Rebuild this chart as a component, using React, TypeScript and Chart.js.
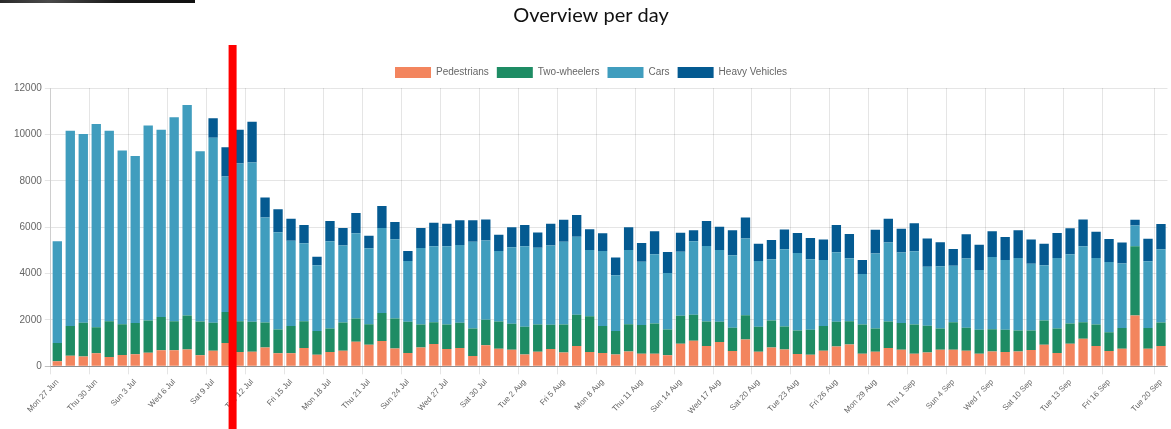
import React, { useEffect, useRef } from "react";
import { Chart, registerables } from "chart.js";

Chart.register(...registerables);

const days: string[] = [
  "Mon 27 Jun", "Tue 28 Jun", "Wed 29 Jun", "Thu 30 Jun",
  "Fri 1 Jul", "Sat 2 Jul", "Sun 3 Jul", "Mon 4 Jul", "Tue 5 Jul", "Wed 6 Jul", "Thu 7 Jul", "Fri 8 Jul",
  "Sat 9 Jul", "Sun 10 Jul", "Mon 11 Jul", "Tue 12 Jul", "Wed 13 Jul", "Thu 14 Jul", "Fri 15 Jul", "Sat 16 Jul",
  "Sun 17 Jul", "Mon 18 Jul", "Tue 19 Jul", "Wed 20 Jul", "Thu 21 Jul", "Fri 22 Jul", "Sat 23 Jul", "Sun 24 Jul",
  "Mon 25 Jul", "Tue 26 Jul", "Wed 27 Jul", "Thu 28 Jul", "Fri 29 Jul", "Sat 30 Jul", "Sun 31 Jul",
  "Mon 1 Aug", "Tue 2 Aug", "Wed 3 Aug", "Thu 4 Aug", "Fri 5 Aug", "Sat 6 Aug", "Sun 7 Aug", "Mon 8 Aug",
  "Tue 9 Aug", "Wed 10 Aug", "Thu 11 Aug", "Fri 12 Aug", "Sat 13 Aug", "Sun 14 Aug", "Mon 15 Aug", "Tue 16 Aug",
  "Wed 17 Aug", "Thu 18 Aug", "Fri 19 Aug", "Sat 20 Aug", "Sun 21 Aug", "Mon 22 Aug", "Tue 23 Aug", "Wed 24 Aug",
  "Thu 25 Aug", "Fri 26 Aug", "Sat 27 Aug", "Sun 28 Aug", "Mon 29 Aug", "Tue 30 Aug", "Wed 31 Aug",
  "Thu 1 Sep", "Fri 2 Sep", "Sat 3 Sep", "Sun 4 Sep", "Mon 5 Sep", "Tue 6 Sep", "Wed 7 Sep", "Thu 8 Sep",
  "Fri 9 Sep", "Sat 10 Sep", "Sun 11 Sep", "Mon 12 Sep", "Tue 13 Sep", "Wed 14 Sep", "Thu 15 Sep", "Fri 16 Sep",
  "Sat 17 Sep", "Sun 18 Sep", "Mon 19 Sep", "Tue 20 Sep",
];

const pedestrians: number[] = [
  215, 460, 430, 570, 400, 490, 520, 590, 690, 690, 730, 475, 675, 1005, 615, 630, 815, 560, 560, 790,
  500, 615, 675, 1060, 930, 1090, 775, 575, 815, 960, 745, 790, 445, 905, 760, 715, 515, 630, 745, 600,
  875, 615, 575, 515, 645, 545, 545, 475, 975, 1105, 875, 1045, 660, 1160, 630, 815, 730, 530, 500, 675,
  860, 945, 545, 630, 790, 715, 545, 600, 715, 715, 675, 545, 645, 615, 645, 705, 930, 575, 975, 1190,
  875, 660, 760, 2195, 760, 875,
];

const twoWheelers: number[] = [
  790, 1280, 1450, 1120, 1550, 1330, 1350, 1390, 1435, 1250, 1465, 1460, 1205, 1335, 1335, 1290, 1075, 1030, 1175, 1160,
  1020, 1020, 1220, 1005, 890, 1205, 1290, 1345, 990, 945, 1060, 1090, 1190, 1100, 1175, 1120, 1190, 1175, 1045, 1205,
  1345, 1550, 1160, 1005, 1175, 1235, 1305, 1115, 1205, 1120, 1060, 875, 1005, 1045, 1075, 1160, 990, 1020, 1075, 1060,
  1060, 1005, 1260, 1005, 1145, 1150, 1260, 1150, 920, 1190, 990, 1030, 960, 960, 905, 845, 1045, 1060, 875, 715,
  930, 815, 890, 2980, 890, 1015,
];

const cars: number[] = [
  4390, 8420, 8140, 8760, 8210, 7490, 7200, 8400, 8080, 8800, 9070, 7335, 7970, 5840, 6790, 6870, 4530, 4190, 3685, 3355,
  2840, 3755, 3310, 3670, 3270, 3670, 3410, 2625, 3300, 3270, 3370, 3355, 3740, 3425, 3040, 3300, 3470, 3310, 3425, 3570,
  3370, 2855, 3240, 2410, 3200, 2725, 2985, 2440, 2765, 3170, 3255, 3095, 3125, 3310, 2840, 2640, 3325, 3340, 3040, 2855,
  3000, 2710, 2180, 3225, 3400, 3040, 3155, 2540, 2680, 2435, 2980, 2580, 3110, 3010, 3125, 2870, 2380, 3040, 2985, 3270,
  2870, 3025, 2780, 900, 2880, 3155,
];

const heavyVehicles: number[] = [
  0, 0, 0, 0, 0, 0, 0, 0, 0, 0, 0, 0, 850, 1265, 1460, 1760, 860, 990, 945, 790,
  370, 875, 760, 875, 545, 945, 745, 430, 860, 1020, 975, 1060, 920, 905, 700, 860, 920, 660, 930, 945,
  930, 890, 760, 760, 975, 815, 990, 900, 815, 475, 1075, 1005, 1075, 905, 745, 830, 860, 860, 915, 875,
  1175, 1045, 600, 1030, 1030, 1030, 1205, 1220, 1030, 715, 1045, 1090, 1105, 990, 1190, 1045, 930, 1075, 1120, 1160,
  1130, 990, 905, 245, 975, 1090,
];

const seriesNames: string[] = ["Pedestrians", "Two-wheelers", "Cars", "Heavy Vehicles"];
const seriesColors: string[] = ["#f3855e", "#1e8c64", "#409dbe", "#045a91"];
const yTicks: number[] = [0, 2000, 4000, 6000, 8000, 10000, 12000];
const markerBetween = 13.5; // red marker between Sun 10 Jul and Mon 11 Jul

const lastIdx = days.length - 1;
const shownTick = (i: number) => i === lastIdx || (i % 3 === 0 && i + 3 <= lastIdx);

const markerPlugin = {
  id: "redMarker",
  afterDraw(chart: any) {
    const xs = chart.scales.x;
    const ctx = chart.ctx;
    const x = xs.getPixelForValue(markerBetween);
    const top = chart.legend.top - 14;
    ctx.save();
    ctx.fillStyle = "#ff0000";
    ctx.fillRect(x - 4, top, 8, chart.height - top);
    ctx.restore();
  },
};

export default function App() {
  const ref = useRef<HTMLCanvasElement | null>(null);

  useEffect(() => {
    if (!ref.current) return;
    const data = [pedestrians, twoWheelers, cars, heavyVehicles];
    const chart = new Chart(ref.current, {
      type: "bar",
      data: {
        labels: days,
        datasets: seriesNames.map((name, k) => ({
          label: name,
          data: data[k],
          backgroundColor: seriesColors[k],
          borderWidth: 0,
        })),
      },
      options: {
        animation: false,
        responsive: true,
        maintainAspectRatio: false,
        layout: { padding: { left: 11, right: 0, top: 0, bottom: 10 } },
        font: { family: "'Liberation Sans', Arial, sans-serif", size: 10 },
        plugins: {
          title: {
            display: true,
            text: "Overview per day",
            color: "#111",
            font: { family: "Lato, 'Noto Sans', sans-serif", size: 20, weight: "normal" },
            padding: { top: 4, bottom: 31 },
          },
          legend: {
            position: "top",
            labels: {
              boxWidth: 36,
              boxHeight: 11,
              padding: 8,
              color: "#666",
              font: { family: "'Liberation Sans', Arial, sans-serif", size: 10 },
            },
          },
          tooltip: { enabled: false },
        },
        scales: {
          x: {
            stacked: true,
            offset: true,
            grid: {
              offset: true,
              color: (c: any) => (c.tick && shownTick(c.index) ? "rgba(0,0,0,0.1)" : "rgba(0,0,0,0)"),
              tickLength: 8,
            },
            border: { color: "rgba(0,0,0,0.25)" },
            ticks: {
              autoSkip: false,
              minRotation: 47,
              maxRotation: 47,
              color: "#666",
              font: { family: "'Liberation Sans', Arial, sans-serif", size: 8 },
              callback: (_v: any, i: number) => (shownTick(i) ? days[i] : ""),
            },
          },
          y: {
            stacked: true,
            min: yTicks[0],
            max: yTicks[yTicks.length - 1],
            ticks: {
              stepSize: yTicks[1] - yTicks[0],
              color: "#666",
              padding: 3,
              font: { family: "'Liberation Sans', Arial, sans-serif", size: 10 },
              callback: (v: any) => String(v),
            },
            grid: {
              color: (c: any) => (c.tick && c.tick.value === 0 ? "rgba(0,0,0,0.25)" : "rgba(0,0,0,0.1)"),
              tickLength: 6,
            },
            border: { color: "rgba(0,0,0,0.1)" },
          },
        },
      },
      plugins: [markerPlugin],
    });
    return () => chart.destroy();
  }, []);

  return (
    <div style={{ position: "absolute", left: 0, top: 0, width: 1171, height: 429, overflow: "hidden", background: "#fff" }}>
      <div
        style={{
          position: "absolute",
          left: 0,
          top: 0,
          width: 195,
          height: 3,
          background: "linear-gradient(90deg, #2a2a2a, #4a4a4a 25%, #1a1a1a 60%, #111)",
          zIndex: 2,
        }}
      />
      <canvas ref={ref} style={{ width: "100%", height: "100%" }} />
    </div>
  );
}
